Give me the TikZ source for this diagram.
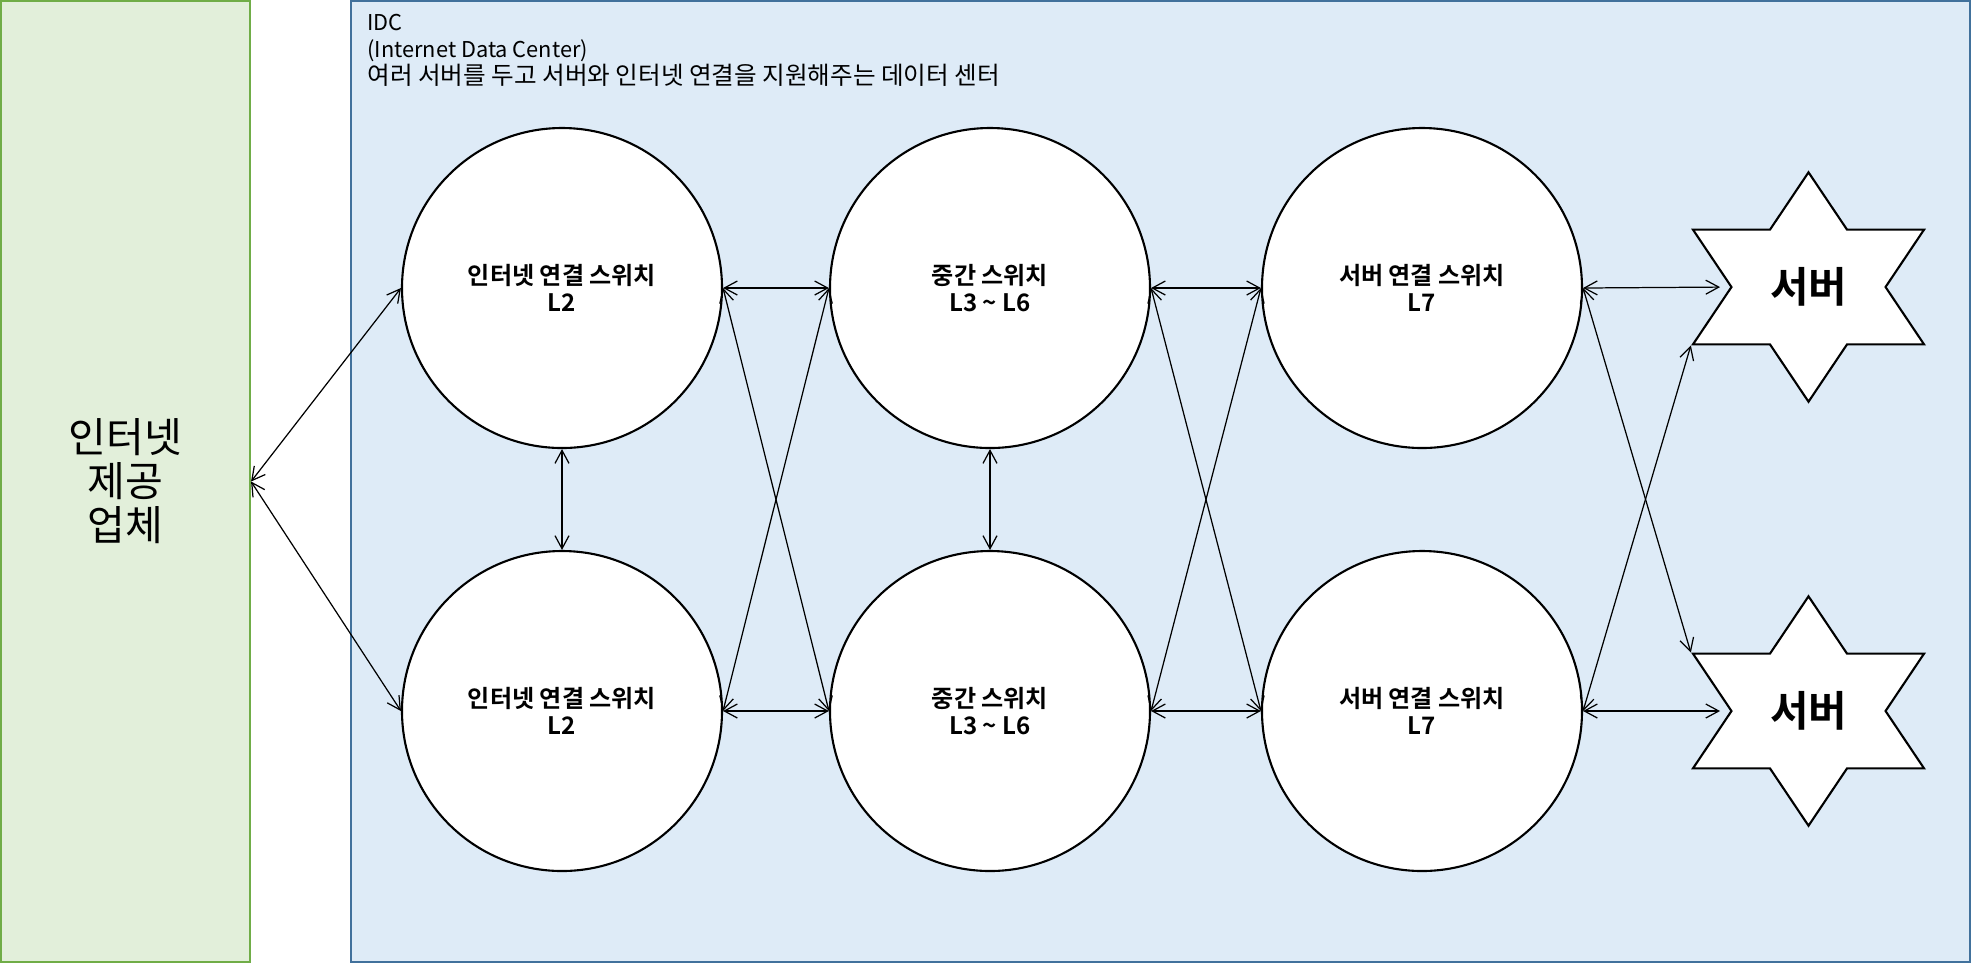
\documentclass[tikz,border=0pt]{standalone}
\usepackage{fontspec}
\setmainfont{Noto Sans CJK KR}[BoldFont={Noto Sans CJK KR Bold}]
\usetikzlibrary{shapes.geometric,arrows.meta}

\definecolor{ispfill}{HTML}{E2EFDA}
\definecolor{ispdraw}{HTML}{70AD47}
\definecolor{idcfill}{HTML}{DEEBF7}
\definecolor{idcdraw}{HTML}{41719C}

\tikzset{
	switch/.style={circle, draw, line width=0.6pt, fill=white, minimum size=3.2cm, inner sep=0pt, align=center, font=\fontsize{6.85}{7.7}\selectfont\bfseries},
	srvstar/.style={star, star points=6, star point ratio=1.732, draw, line width=0.6pt, fill=white, minimum size=2.294cm, inner sep=0pt},
	srvtext/.style={font=\fontsize{11.9}{13}\selectfont\bfseries},
	link/.style={<->, >={Straight Barb[length=1.3mm,width=1.4mm]}, line width=0.35pt},
}

\begin{document}
\begin{tikzpicture}
	\useasboundingbox (0,0) rectangle (19.71,-9.63);
	
	% data center area
	\draw[idcdraw, fill=idcfill, line width=0.6pt] (3.507,-0.01) rectangle (19.70,-9.62);
	\node[anchor=north west, align=left, inner sep=0pt, font=\fontsize{6.2}{7.7}\selectfont] (idc) at (3.667,-0.136) {IDC\\(Internet Data Center)\\\fontsize{7}{7.7}\selectfont 여러 서버를 두고 서버와 인터넷 연결을 지원해주는 데이터 센터};
	
	% provider
	\node[draw=ispdraw, fill=ispfill, line width=0.6pt, minimum width=2.49cm, minimum height=9.61cm, inner sep=0pt, align=center, font=\fontsize{11.7}{12.5}\selectfont] (isp) at (1.255,-4.815) {인터넷\\제공\\업체};
	
	% switches
	\node[switch] (in1) at (5.62,-2.88) {인터넷 연결 스위치\\L2};
	\node[switch] (in2) at (5.62,-7.11) {인터넷 연결 스위치\\L2};
	\node[switch] (mid1) at (9.90,-2.88) {중간 스위치\\L3 \textasciitilde{} L6};
	\node[switch] (mid2) at (9.90,-7.11) {중간 스위치\\L3 \textasciitilde{} L6};
	\node[switch] (srv1) at (14.22,-2.88) {서버 연결 스위치\\L7};
	\node[switch] (srv2) at (14.22,-7.11) {서버 연결 스위치\\L7};
	
	% servers
	\begin{scope}[shift={(18.085,-2.87)}, xscale=1.163]
		\node[srvstar, transform shape] (host1) at (0,0) {};
	\end{scope}
	\begin{scope}[shift={(18.085,-7.11)}, xscale=1.163]
		\node[srvstar, transform shape] (host2) at (0,0) {};
	\end{scope}
	\node[srvtext] (host1txt) at (host1) {서버};
	\node[srvtext] (host2txt) at (host2) {서버};
	
	% links
	\draw[link] (isp.east) -- (in1.west);
	\draw[link] (isp.east) -- (in2.west);
	\draw[link] (in1.south) -- (in2.north);
	\draw[link] (in1.east) -- (mid1.west);
	\draw[link] (in1.east) -- (mid2.west);
	\draw[link] (in2.east) -- (mid1.west);
	\draw[link] (in2.east) -- (mid2.west);
	\draw[link] (mid1.south) -- (mid2.north);
	\draw[link] (mid1.east) -- (srv1.west);
	\draw[link] (mid1.east) -- (srv2.west);
	\draw[link] (mid2.east) -- (srv1.west);
	\draw[link] (mid2.east) -- (srv2.west);
	\draw[link, shorten >=0.1cm] (srv1.east) -- (host1.inner point 2);
	\draw[link] (srv1.east) -- (host2.outer point 2);
	\draw[link] (srv2.east) -- (host1.outer point 3);
	\draw[link, shorten >=0.1cm] (srv2.east) -- (host2.inner point 2);
	
\end{tikzpicture}
\end{document}
